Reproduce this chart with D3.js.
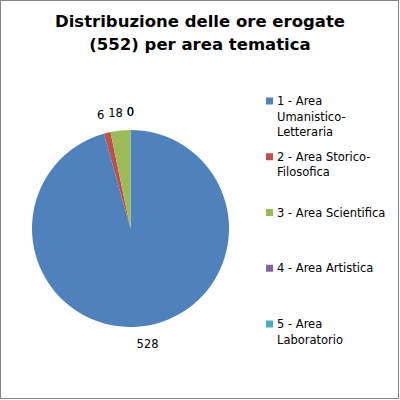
<!DOCTYPE html>
<html>
<head>
<meta charset="utf-8">
<script src="https://cdn.jsdelivr.net/npm/d3@7"></script>
<style>
  body { margin: 0; background: #fff; }
  svg { display: block; }
  text { font-family: "DejaVu Sans", sans-serif; fill: #000; }
</style>
</head>
<body>
<svg id="chart"></svg>
<script>
const width = 400;
const height = 400;

// chart data
const titleLines = ["Distribuzione delle ore erogate", "(552) per area tematica"];
const categories = [
    "1 - Area Umanistico-Letteraria",
    "2 - Area Storico-Filosofica",
    "3 - Area Scientifica",
    "4 - Area Artistica",
    "5 - Area Laboratorio"
];
const legendLines = [
    ["1 - Area", "Umanistico-", "Letteraria"],
    ["2 - Area Storico-", "Filosofica"],
    ["3 - Area Scientifica"],
    ["4 - Area Artistica"],
    ["5 - Area", "Laboratorio"]
];
const hours = [528, 6, 18, 0, 0];
const colors = ["#4F81BD", "#C0504D", "#9BBB59", "#8064A2", "#4BACC6"];

const svg = d3.select("#chart")
    .attr("width", width)
    .attr("height", height);

// outer frame
svg.append("rect")
    .attr("x", 0.5).attr("y", 0.5)
    .attr("width", 398).attr("height", 398)
    .attr("fill", "#fff")
    .attr("stroke", "#868686");

// title
svg.append("g")
    .selectAll("text")
    .data(titleLines)
    .join("text")
    .attr("x", 200)
    .attr("y", (d, i) => 27 + i * 23)
    .attr("text-anchor", "middle")
    .attr("font-size", 16.5)
    .attr("font-weight", "bold")
    .text(d => d);

// pie
const cx = 130.5, cy = 228.5, radius = 98.5;
const pie = d3.pie().sort(null).value(d => d);
const arcs = pie(hours);
const arc = d3.arc().innerRadius(0).outerRadius(radius);

const g = svg.append("g").attr("transform", `translate(${cx},${cy})`);

g.selectAll("path")
    .data(arcs)
    .join("path")
    .attr("d", arc)
    .attr("fill", (d, i) => colors[i]);

// value labels, outside end
const labelR = radius + 16;
const labels = g.selectAll("text.value")
    .data(arcs)
    .join("text")
    .attr("class", "value")
    .attr("font-size", 11.5)
    .attr("text-anchor", "middle")
    .attr("dy", "0.35em")
    .text(d => d.value)
    .each(function(d) {
        const a = (d.startAngle + d.endAngle) / 2;
        d.w = this.getComputedTextLength();
        d.lx = Math.sin(a) * labelR + Math.sin(a) * d.w / 2;
        d.ly = -Math.cos(a) * (labelR + 2);
    });

// push crowded labels apart (right to left), labels at the same spot stay together
const gap = 4;
const topLabels = arcs.filter(d => d.ly < -radius).sort((a, b) => b.lx - a.lx);
for (let i = 1; i < topLabels.length; i++) {
    const right = topLabels[i - 1], cur = topLabels[i];
    if (Math.abs(cur.lx - right.lx) < 0.01) continue;
    const maxX = right.lx - right.w / 2 - gap - cur.w / 2;
    if (cur.lx > maxX) cur.lx = maxX;
}

labels
    .attr("x", d => d.lx)
    .attr("y", d => d.ly);

// legend
const legendY = d3.scalePoint()
    .domain(categories)
    .range([105, 328]);

const legend = svg.append("g")
    .selectAll("g")
    .data(categories)
    .join("g")
    .attr("transform", d => `translate(266,${legendY(d)})`);

legend.append("rect")
    .attr("x", 0)
    .attr("y", -7.5)
    .attr("width", 7)
    .attr("height", 7)
    .attr("fill", (d, i) => colors[i]);

legend.append("text")
    .attr("font-size", 11.5)
    .attr("fill", "#000")
    .selectAll("tspan")
    .data((d, i) => legendLines[i])
    .join("tspan")
    .attr("x", 11)
    .attr("y", (d, i) => i * 15.5)
    .text(d => d);
</script>
</body>
</html>
